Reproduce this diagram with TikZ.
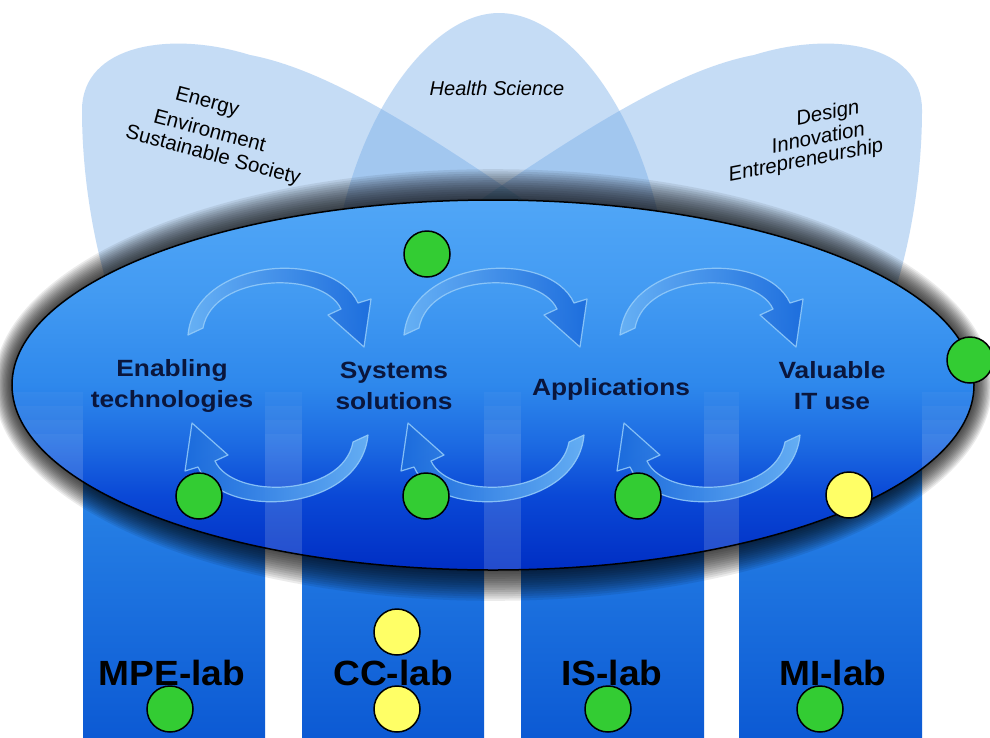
\documentclass[tikz,border=0pt]{standalone}
\usepackage{fontspec}
\setmainfont{Liberation Sans}
\newfontfamily\lblfont{Liberation Sans}[FakeStretch=1.12]
\newfontfamily\labfont{Liberation Sans}[FakeStretch=1.06]
\definecolor{petal}{RGB}{111,168,232}
\definecolor{eA}{RGB}{0,46,196}
\definecolor{eB}{RGB}{10,72,214}
\definecolor{eC}{RGB}{28,106,226}
\definecolor{eD}{RGB}{46,136,236}
\definecolor{eE}{RGB}{66,154,242}
\definecolor{eF}{RGB}{80,166,247}
\definecolor{barT}{RGB}{52,148,238}
\definecolor{barB}{RGB}{12,90,212}
\definecolor{arcL}{RGB}{105,178,245}
\definecolor{arcD}{RGB}{28,108,220}
\definecolor{arcedge}{RGB}{150,205,250}
\definecolor{navy}{RGB}{10,22,60}
\definecolor{dotgreen}{RGB}{51,204,51}
\definecolor{dotyellow}{RGB}{255,255,102}
\pgfdeclareverticalshading{ellshade}{100bp}{color(0bp)=(eA); color(25bp)=(eA); color(35bp)=(eB); color(42bp)=(eC); color(50bp)=(eD); color(62bp)=(eE); color(75bp)=(eF); color(100bp)=(eF)}
\begin{document}
\begin{tikzpicture}[x=1pt,y=1pt,
  petalfill/.style={fill=petal,fill opacity=0.4},
  ptext/.style={text=black,font=\fontsize{20.5}{25}\selectfont,inner sep=0pt},
  ptexti/.style={text=black,font=\fontsize{20.5}{25}\selectfont\itshape,inner sep=0pt},
  elabel/.style={align=center,text=navy,font=\lblfont\bfseries\fontsize{23.5}{31}\selectfont,inner sep=0pt},
  blabel/.style={text=black,font=\labfont\bfseries\fontsize{35}{40}\selectfont,inner sep=0pt,anchor=base},
  barbox/.style={top color=barT,bottom color=barB},
  arcband/.style={draw=arcedge,line width=1.2pt,draw opacity=0.85,fill opacity=0.94,line join=round},
  dot/.style={circle,draw=black,line width=1.5pt,minimum size=46pt,inner sep=0pt},
  gdot/.style={dot,fill=dotgreen},
  ydot/.style={dot,fill=dotyellow}]
\useasboundingbox (0,0) rectangle (990,-737);
\fill[white] (0,0) rectangle (990,-737);
% petals
\fill[petalfill] (560,-225) .. controls (430,-135) and (330,-70) .. (250,-55)
  .. controls (170,-30) and (82,-45) .. (82,-110)
  .. controls (82,-180) and (95,-250) .. (112,-300) -- (480,-330) -- cycle;
\fill[petalfill] (444,-225) .. controls (574,-135) and (674,-70) .. (754,-55)
  .. controls (834,-30) and (922,-45) .. (922,-110)
  .. controls (922,-180) and (909,-250) .. (892,-300) -- (524,-330) -- cycle;
\fill[petalfill] (330,-320) .. controls (330,-150) and (420,-13) .. (499,-13)
  .. controls (580,-13) and (670,-150) .. (670,-320) -- cycle;
% bars
\shade[barbox] (83,-380) rectangle (265,-737);
\shade[barbox] (302,-380) rectangle (484,-737);
\shade[barbox] (521,-380) rectangle (704,-737);
\shade[barbox] (739,-380) rectangle (922,-737);
% halo
\foreach \k in {14,13,...,1}{
  \pgfmathsetmacro\rx{481+1.3*\k}
  \pgfmathsetmacro\ry{185+2.2*\k}
  \fill[black,opacity=0.08] (493,-385) ellipse [x radius=\rx, y radius=\ry];
}
% main ellipse
\shade[shading=ellshade] (493,-385) ellipse [x radius=481, y radius=185];
\begin{scope}
  \clip (493,-385) ellipse [x radius=481, y radius=185];
  \foreach \t in {392,406,420,434}{
    \fill[white,opacity=0.038] (0,-\t) rectangle (83,-737) (265,-\t) rectangle (302,-737)
      (484,-\t) rectangle (521,-737) (704,-\t) rectangle (739,-737) (922,-\t) rectangle (990,-737);
  }
\end{scope}
\draw[line width=1.5pt] (493,-385) ellipse [x radius=481, y radius=185];
% cycle arrows
\foreach \c in {278,494,710}{
  \shadedraw[arcband,left color=arcL,right color=arcD,shift={(\c,-385)}]
    (-90,50) .. controls (-83,127) and (55,137) .. (80,82) -- (93,86) -- (86,38) -- (50,70) -- (63,76)
    .. controls (45,115) and (-65,112) .. (-75,57) -- cycle;
  \shadedraw[arcband,left color=arcD,right color=arcL,shift={(\c,-385)}]
    (90,-50) .. controls (83,-127) and (-55,-137) .. (-80,-82) -- (-93,-86) -- (-86,-38) -- (-50,-70) -- (-63,-76)
    .. controls (-45,-115) and (65,-112) .. (75,-57) -- cycle;
}
% petal texts
\node[ptext,rotate=-15] (eee1) at (207,-103) {Energy};
\node[ptext,rotate=-15] (eee2) at (210,-130) {Environment};
\node[ptext,rotate=-15] (eee3) at (213,-156) {Sustainable Society};
\node[ptexti,font=\fontsize{20}{24}\selectfont\itshape] (hs) at (497,-88) {Health Science};
\node[ptexti,rotate=11] (die1) at (828,-114) {Design};
\node[ptexti,rotate=11] (die2) at (818,-137) {Innovation};
\node[ptexti,rotate=11] (die3) at (806,-161) {Entrepreneurship};
% ellipse labels
\node[elabel] (en) at (172,-386) {Enabling\\technologies};
\node[elabel] (sy) at (394,-386) {Systems\\solutions};
\node[elabel,anchor=base] (ap) at (611,-395) {Applications};
\node[elabel] (va) at (832,-386) {Valuable\\IT use};
% bar labels
\node[blabel] (mpe) at (172,-685) {MPE-lab};
\node[blabel] (cc) at (393,-685) {CC-lab};
\node[blabel] (is) at (612,-685) {IS-lab};
\node[blabel] (mi) at (833,-685) {MI-lab};
% dots
\node[gdot] (d1) at (427,-254) {};
\node[gdot] (d2) at (970,-360) {};
\node[gdot] (d3) at (199,-496) {};
\node[gdot] (d4) at (426,-496) {};
\node[gdot] (d5) at (638,-496) {};
\node[ydot] (d6) at (849,-495) {};
\node[ydot] (d7) at (397,-632) {};
\node[ydot] (d8) at (397,-709) {};
\node[gdot] (d9) at (170,-709) {};
\node[gdot] (d10) at (608,-709) {};
\node[gdot] (d11) at (820,-709) {};
\end{tikzpicture}
\end{document}
